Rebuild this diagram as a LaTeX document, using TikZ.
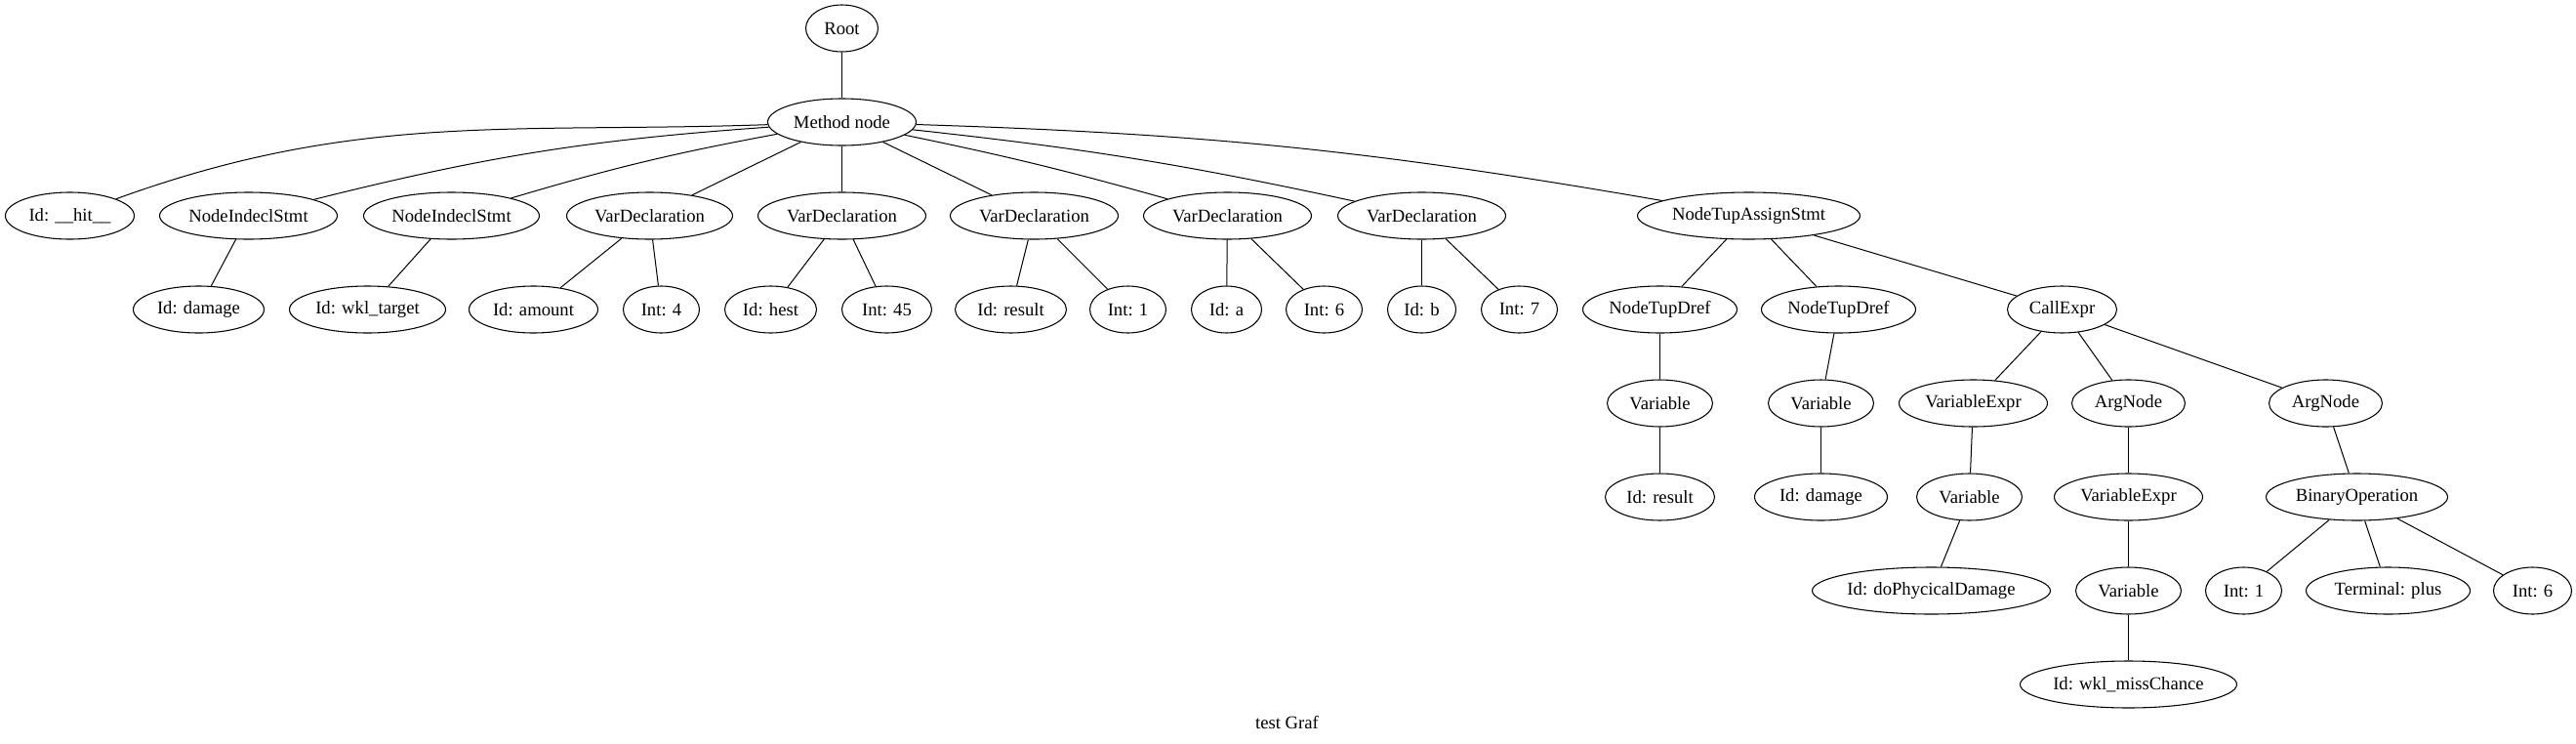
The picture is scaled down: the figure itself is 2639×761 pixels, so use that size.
\documentclass[tikz,border=0pt]{standalone}
\usepackage{fontspec}
\setmainfont{Liberation Serif}
\usetikzlibrary{shapes.geometric}
\begin{document}
\begin{tikzpicture}[x=0.75pt,y=-0.75pt,
  nd/.style={ellipse,draw,line width=0.8pt,inner sep=0pt,minimum height=36pt,font=\fontsize{14pt}{16pt}\selectfont},
  w/.style={minimum width=#1*1.5pt},
  ed/.style={line width=0.75pt}]
\useasboundingbox (0,0) rectangle (2639,761);
\begin{scope}[xshift=0.375pt]
% row 0,1
\node[nd,w=37] (root) at (862,29) {Root};
\node[nd,w=76] (m) at (862,125) {Method node};
% row 2
\node[nd,w=66] (hit) at (71,221) {Id: \_\_hit\_\_};
\node[nd,w=91] (ni1) at (254,221) {NodeIndeclStmt};
\node[nd,w=90] (ni2) at (462,221) {NodeIndeclStmt};
\node[nd,w=85] (vd1) at (665,221) {VarDeclaration};
\node[nd,w=86] (vd2) at (862,221) {VarDeclaration};
\node[nd,w=86] (vd3) at (1059,221) {VarDeclaration};
\node[nd,w=86] (vd4) at (1257,221) {VarDeclaration};
\node[nd,w=86] (vd5) at (1456,221) {VarDeclaration};
\node[nd,w=114] (tas) at (1791,221) {NodeTupAssignStmt};
% row 3
\node[nd,w=67] (idd) at (203,317) {Id: damage};
\node[nd,w=80] (idw) at (376,317) {Id: wkl\_target};
\node[nd,w=66] (ida) at (546,317) {Id: amount};
\node[nd,w=39] (i4) at (677,317) {Int: 4};
\node[nd,w=47] (idh) at (789,317) {Id: hest};
\node[nd,w=46] (i45) at (908,317) {Int: 45};
\node[nd,w=57] (idr) at (1035,317) {Id: result};
\node[nd,w=39] (i1) at (1155,317) {Int: 1};
\node[nd,w=36] (idaa) at (1256,317) {Id: a};
\node[nd,w=39] (i6) at (1356,317) {Int: 6};
\node[nd,w=35] (idb) at (1456,317) {Id: b};
\node[nd,w=39] (i7) at (1556,317) {Int: 7};
\node[nd,w=79] (td1) at (1700,317) {NodeTupDref};
\node[nd,w=79] (td2) at (1883,317) {NodeTupDref};
\node[nd,w=56] (ce) at (2112,317) {CallExpr};
% row 4
\node[nd,w=54] (v1) at (1700,413) {Variable};
\node[nd,w=54] (v2) at (1865,413) {Variable};
\node[nd,w=76] (ve1) at (2021,413) {VariableExpr};
\node[nd,w=58] (an1) at (2180,413) {ArgNode};
\node[nd,w=58] (an2) at (2382,413) {ArgNode};
% row 5
\node[nd,w=56] (idr2) at (1700,509) {Id: result};
\node[nd,w=68] (idd2) at (1865,509) {Id: damage};
\node[nd,w=54] (v3) at (2017,509) {Variable};
\node[nd,w=76] (ve2) at (2180,509) {VariableExpr};
\node[nd,w=93] (bo) at (2414,509) {BinaryOperation};
% row 6
\node[nd,w=122] (iddp) at (1978,605) {Id: doPhycicalDamage};
\node[nd,w=54] (v4) at (2180,605) {Variable};
\node[nd,w=39] (i1b) at (2298,605) {Int: 1};
\node[nd,w=84] (tp) at (2446,605) {Terminal: plus};
\node[nd,w=40] (i6b) at (2594,605) {Int: 6};
% row 7
\node[nd,w=111] (idwm) at (2180,701) {Id: wkl\_missChance};
% title
\node[font=\fontsize{14pt}{16pt}\selectfont] (title) at (1318,740) {test Graf};
% edges
\draw[ed] (root) -- (m);
\draw[ed] (m) to[out=182,in=20] (hit);
\draw[ed] (m) to[bend right=5] (ni1);
\draw[ed] (m) to[bend right=3] (ni2);
\draw[ed] (m) -- (vd1);
\draw[ed] (m) -- (vd2);
\draw[ed] (m) -- (vd3);
\draw[ed] (m) to[bend left=2] (vd4);
\draw[ed] (m) to[bend left=3] (vd5);
\draw[ed] (m) to[bend left=4] (tas);
\draw[ed] (ni1) -- (idd);
\draw[ed] (ni2) -- (idw);
\draw[ed] (vd1) -- (ida);
\draw[ed] (vd1) -- (i4);
\draw[ed] (vd2) -- (idh);
\draw[ed] (vd2) -- (i45);
\draw[ed] (vd3) -- (idr);
\draw[ed] (vd3) -- (i1);
\draw[ed] (vd4) -- (idaa);
\draw[ed] (vd4) -- (i6);
\draw[ed] (vd5) -- (idb);
\draw[ed] (vd5) -- (i7);
\draw[ed] (tas) -- (td1);
\draw[ed] (tas) -- (td2);
\draw[ed] (tas) -- (ce);
\draw[ed] (td1) -- (v1);
\draw[ed] (td2) -- (v2);
\draw[ed] (ce) -- (ve1);
\draw[ed] (ce) -- (an1);
\draw[ed] (ce) -- (an2);
\draw[ed] (v1) -- (idr2);
\draw[ed] (v2) -- (idd2);
\draw[ed] (ve1) -- (v3);
\draw[ed] (an1) -- (ve2);
\draw[ed] (an2) -- (bo);
\draw[ed] (v3) -- (iddp);
\draw[ed] (ve2) -- (v4);
\draw[ed] (bo) -- (i1b);
\draw[ed] (bo) -- (tp);
\draw[ed] (bo) -- (i6b);
\draw[ed] (v4) -- (idwm);
\end{scope}
\end{tikzpicture}
\end{document}
